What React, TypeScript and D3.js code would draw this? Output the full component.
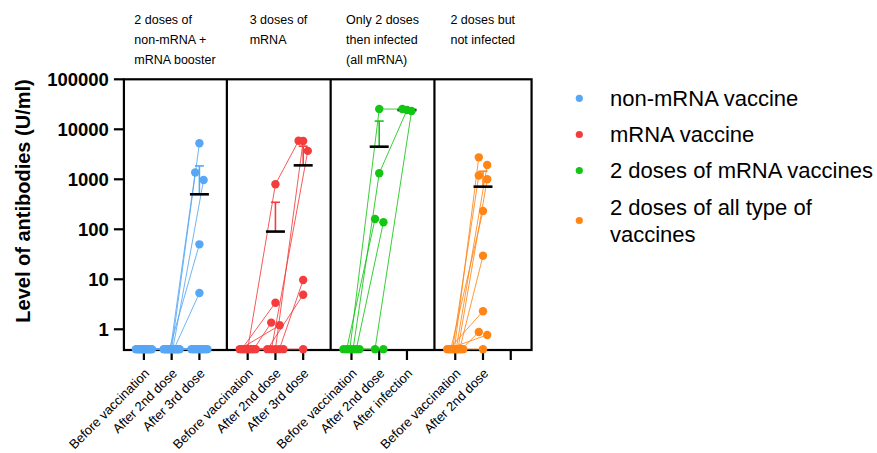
import React, { useEffect, useRef } from "react";
import * as d3 from "d3";

// ---------- data ----------
const panelTitles: string[][] = [
  ["2 doses of", "non-mRNA +", "mRNA booster"],
  ["3 doses of", "mRNA"],
  ["Only 2 doses", "then infected", "(all mRNA)"],
  ["2 doses but", "not infected"],
];
const timepoints: string[][] = [
  ["Before vaccination", "After 2nd dose", "After 3rd dose"],
  ["Before vaccination", "After 2nd dose", "After 3rd dose"],
  ["Before vaccination", "After 2nd dose", "After infection"],
  ["Before vaccination", "After 2nd dose", ""],
];
const legendLabels: string[][] = [
  ["non-mRNA vaccine"],
  ["mRNA vaccine"],
  ["2 doses of mRNA vaccines"],
  ["2 doses of all type of", "vaccines"],
];
const seriesColors = ["#56A7F5", "#F43C3C", "#14C614", "#FF8616"];
const yTicks = [1, 10, 100, 1000, 10000, 100000];
const yLabel = "Level of antibodies (U/ml)";

// each row = one subject: [timepoint1, timepoint2, timepoint3], NaN = not measured
// 0.4 = below detection (plotted on the axis floor)
const blueSubjects: number[][] = [
  [0.4, 0.4, 5250], [0.4, 0.4, 1370], [0.4, 0.4, 970], [0.4, 0.4, 50], [0.4, 0.4, 5.3],
  [0.4, 0.4, 0.4], [0.4, 0.4, 0.4], [0.4, 0.4, 0.4], [0.4, 0.4, 0.4], [0.4, 0.4, 0.4],
  [0.4, 0.4, 0.4], [0.4, 0.4, 0.4], [0.4, 0.4, 0.4], [0.4, 0.4, 0.4], [0.4, 0.4, 0.4],
];
const redSubjects: number[][] = [
  [0.4, 794, 5900], [0.4, 0.4, 5850], [0.4, 0.4, 3700], [0.4, 0.4, 9.7], [0.4, 0.4, 4.9],
  [0.4, 3.4, NaN], [0.4, 1.36, NaN], [0.4, 1.2, NaN], [0.4, 0.4, 0.4],
];
const greenSubjects: number[][] = [
  [0.4, 25400, 25400], [0.4, 1318, 24300], [0.4, 161, NaN], [0.4, 138, NaN],
  [0.4, 0.4, 23200], [0.4, 0.4, NaN],
];
const orangeSubjects: number[][] = [
  [0.4, 2750, NaN], [0.4, 1930, NaN], [0.4, 1190, NaN], [0.4, 1000, NaN], [0.4, 232, NaN],
  [0.4, 29.5, NaN], [0.4, 2.3, NaN], [0.4, 0.88, NaN], [0.4, 0.77, NaN], [0.4, 0.4, NaN],
];
const blueMean = [NaN, NaN, 501];
const blueErrTop = [NaN, NaN, 1850];
const redMean = [NaN, 90, 1900];
const redErrTop = [NaN, 347, 4600];
const greenMean = [NaN, 4490, 24300];
const greenErrTop = [NaN, 14600, NaN];
const orangeMean = [NaN, 712, NaN];
const orangeErrTop = [NaN, 1450, NaN];

const panels = [
  { subjects: blueSubjects, mean: blueMean, err: blueErrTop },
  { subjects: redSubjects, mean: redMean, err: redErrTop },
  { subjects: greenSubjects, mean: greenMean, err: greenErrTop },
  { subjects: orangeSubjects, mean: orangeMean, err: orangeErrTop },
];

const FONT = "'Liberation Sans', Arial, Helvetica, sans-serif";

export default function App() {
  const ref = useRef<SVGSVGElement | null>(null);

  useEffect(() => {
    const svg = d3.select(ref.current);
    svg.selectAll("*").remove();

    const plotTop = 79.3;
    const plotBottom = 350;
    const y = d3.scaleLog().domain([0.385, 100000]).range([plotBottom, plotTop]);

    // slot scale: 3 columns per panel, panels separated by a gap
    const GROUP = 3.74;
    const x = d3.scaleLinear().domain([0, 1]).range([143.9, 143.9 + 27.75]);
    const colX = (g: number, i: number) => x(g * GROUP + i);
    const edges = [0, 1, 2, 3].map((g) => x(g * GROUP - 0.75));
    const rightEdge = x(3 * GROUP + 2.75);
    const leftEdge = x(-0.72);

    const root = svg.append("g").attr("font-family", FONT);

    // frame
    const frame = root.append("g").attr("stroke", "#000").attr("stroke-width", 2.2).attr("fill", "none");
    frame.append("rect").attr("x", leftEdge).attr("y", plotTop).attr("width", rightEdge - leftEdge).attr("height", plotBottom - plotTop);
    edges.slice(1).forEach((ex) => {
      frame.append("line").attr("x1", ex).attr("x2", ex).attr("y1", plotTop).attr("y2", plotBottom);
    });

    // y axis ticks
    const yAx = root.append("g");
    yTicks.forEach((t) => {
      yAx.append("line").attr("x1", leftEdge - 10).attr("x2", leftEdge).attr("y1", y(t)).attr("y2", y(t))
        .attr("stroke", "#000").attr("stroke-width", 2.2);
      yAx.append("text").attr("x", leftEdge - 15).attr("y", y(t)).attr("dy", "0.36em")
        .attr("text-anchor", "end").attr("font-size", 18.5).attr("font-weight", "bold").text(String(t));
    });
    root.append("text")
      .attr("transform", `translate(23,201) rotate(-90)`)
      .attr("text-anchor", "middle").attr("dy", "0.36em")
      .attr("font-size", 20).attr("font-weight", "bold").text(yLabel);

    // x ticks + labels
    timepoints.forEach((cats, g) => {
      cats.forEach((c, i) => {
        const cx = colX(g, i);
        root.append("line").attr("x1", cx).attr("x2", cx).attr("y1", plotBottom).attr("y2", plotBottom + 10)
          .attr("stroke", "#000").attr("stroke-width", 2.2);
        if (c) {
          root.append("text").attr("transform", `translate(${cx + 3},${plotBottom + 21}) rotate(-45)`)
            .attr("text-anchor", "end").attr("dy", "0.35em").attr("font-size", 13).text(c);
        }
      });
    });

    // panel titles (left aligned block centred over panel)
    panelTitles.forEach((lines, g) => {
      const cxPanel = (edges[g] + (g < 3 ? edges[g + 1] : rightEdge)) / 2;
      const tg = root.append("g");
      lines.forEach((l, k) => {
        tg.append("text").attr("x", 0).attr("y", 23.7 + k * 20).attr("font-size", 12.5).text(l);
      });
      const bb = (tg.node() as SVGGElement).getBBox();
      tg.attr("transform", `translate(${cxPanel - bb.width / 2},0)`);
    });

    // data
    panels.forEach((p, g) => {
      const color = seriesColors[g];
      const nCols = 3;
      // spread overlapping points horizontally within each column
      const px: number[][] = p.subjects.map(() => new Array(nCols).fill(NaN));
      for (let c = 0; c < nCols; c++) {
        const pts = p.subjects
          .map((s, idx) => ({ idx, v: s[c] }))
          .filter((d) => !isNaN(d.v))
          .map((d) => ({ ...d, py: y(d.v) }))
          .sort((a, b) => a.py - b.py || a.idx - b.idx);
        const clusters: typeof pts[] = [];
        pts.forEach((pt) => {
          const last = clusters[clusters.length - 1];
          if (last && pt.py - last[last.length - 1].py < 10) last.push(pt);
          else clusters.push([pt]);
        });
        clusters.forEach((cl) => {
          const m = cl.length;
          const step = m === 1 ? 0 : m === 2 ? 8.4 : Math.min(4.6, 16 / (m - 1));
          const slots = d3.range(m).map((k) => (k - (m - 1) / 2) * step);
          const sameY = cl.every((pt) => Math.abs(pt.py - cl[0].py) < 0.5);
          if (sameY) {
            // centre-out by subject order
            const order = slots.slice().sort((a, b) => Math.abs(a) - Math.abs(b) || a - b);
            cl.slice().sort((a, b) => a.idx - b.idx).forEach((pt, k) => {
              px[pt.idx][c] = colX(g, c) + order[k];
            });
          } else {
            cl.forEach((pt, k) => {
              px[pt.idx][c] = colX(g, c) + slots[k];
            });
          }
        });
      }
      const lg = root.append("g").attr("stroke", color).attr("stroke-width", 1).attr("fill", "none").attr("stroke-opacity", 0.85);
      p.subjects.forEach((s, idx) => {
        const line = d3.line<number>()
          .defined((v) => !isNaN(v))
          .x((_, c) => px[idx][c])
          .y((v) => y(v));
        lg.append("path").attr("d", line(s) as string);
      });
      // error bars (mean + upper error)
      p.mean.forEach((m, c) => {
        const e = p.err[c];
        if (!isNaN(m) && !isNaN(e)) {
          const cx = colX(g, c);
          root.append("line").attr("x1", cx).attr("x2", cx).attr("y1", y(m)).attr("y2", y(e))
            .attr("stroke", color).attr("stroke-width", 1.6);
          root.append("line").attr("x1", cx - 4.5).attr("x2", cx + 4.5).attr("y1", y(e)).attr("y2", y(e))
            .attr("stroke", color).attr("stroke-width", 1.6);
        }
      });
      p.mean.forEach((m, c) => {
        if (!isNaN(m)) {
          const cx = colX(g, c);
          root.append("line").attr("x1", cx - 9.5).attr("x2", cx + 9.5).attr("y1", y(m)).attr("y2", y(m))
            .attr("stroke", "#000").attr("stroke-width", 2.6);
        }
      });
      const dg = root.append("g").attr("fill", color);
      p.subjects.forEach((s, idx) => {
        s.forEach((v, c) => {
          if (!isNaN(v)) dg.append("circle").attr("cx", px[idx][c]).attr("cy", y(v)).attr("r", 4.2);
        });
      });
    });

    // legend
    const legY = [98.3, 134.5, 170.5, 220.5];
    legendLabels.forEach((lines, k) => {
      root.append("circle").attr("cx", 579.3).attr("cy", legY[k]).attr("r", 3.6).attr("fill", seriesColors[k]);
      lines.forEach((l, j) => {
        root.append("text").attr("x", 610).attr("y", legY[k] + (j - (lines.length - 1) / 2) * 27)
          .attr("dy", "0.36em").attr("font-size", 22).text(l);
      });
    });
  }, []);

  return (
    <svg
      ref={ref}
      width={877}
      height={453}
      style={{ position: "absolute", left: 0, top: 0, background: "#fff" }}
    />
  );
}
